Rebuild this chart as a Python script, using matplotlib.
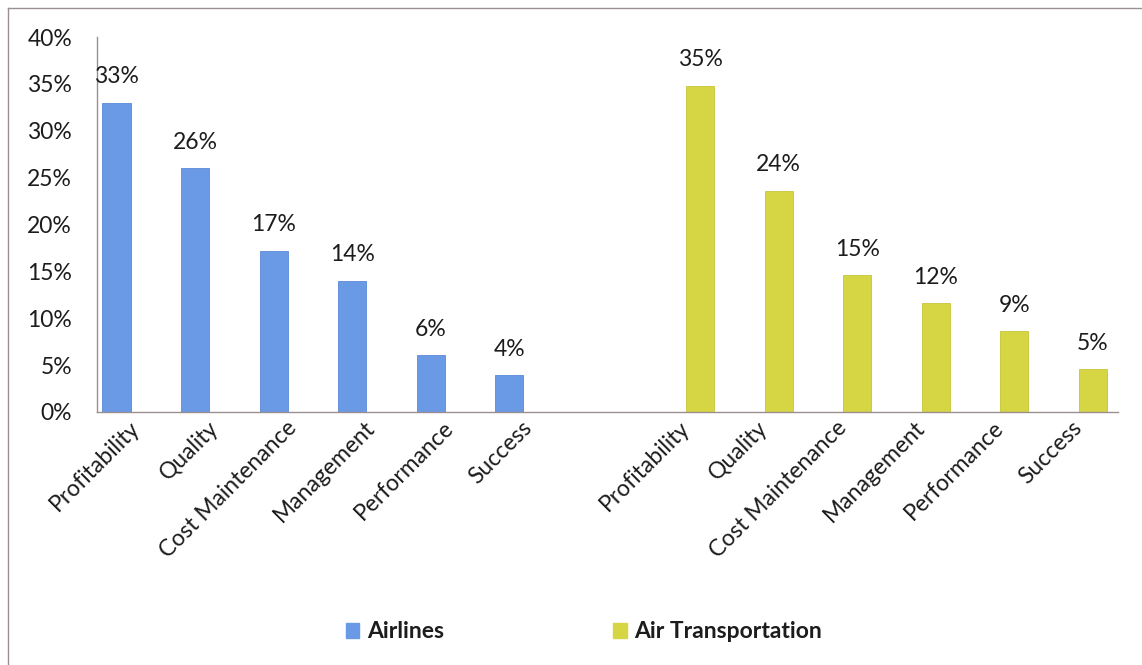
import matplotlib
matplotlib.use("Agg")
import matplotlib.pyplot as plt
from matplotlib.lines import Line2D
from matplotlib.patches import Patch
import numpy as np

# ---- data ----
categories = ["Profitability", "Quality", "Cost Maintenance", "Management", "Performance", "Success"]
airlines = [33.0, 26.0, 17.2, 14.0, 6.1, 3.9]
air_transportation = [34.8, 23.6, 14.6, 11.6, 8.6, 4.6]
series_names = ["Airlines", "Air Transportation"]
y_ticks = [0, 5, 10, 15, 20, 25, 30, 35, 40]

# ---- style ----
BLUE = "#6a9ae6"
YELLOW = "#d6d644"
TXT = "#1c1c1c"
FONT = ["Lato", "DejaVu Sans"]
FS = 16.5

plt.rcParams["font.family"] = FONT

W, H = 1142, 665
fig = plt.figure(figsize=(W / 100, H / 100), dpi=100)
fig.patch.set_facecolor("white")

left, right, bottom, top = 97, 1118, 412, 37
ax = fig.add_axes([left / W, 1 - bottom / H, (right - left) / W, (bottom - top) / H])

n = len(categories)
idx_a = np.arange(n)
idx_b = np.arange(n) + n + 1
bar_w = 0.36

xa = idx_a - 0.25
xb = idx_b + 0.18
ax.bar(xa, airlines, width=bar_w, color=BLUE, edgecolor="#5b8ad8", linewidth=0.6)
ax.bar(xb, air_transportation, width=bar_w, color=YELLOW, edgecolor="#c6c638", linewidth=0.6)

for x, v in list(zip(xa, airlines)) + list(zip(xb, air_transportation)):
    ax.annotate(f"{v:.0f}%", (x, v), xytext=(0, 11), textcoords="offset points",
                ha="center", va="bottom", fontsize=FS, color=TXT)

ax.set_xlim(-0.5, 2 * n + 0.5)
ax.set_ylim(0, 40)
ax.set_yticks(y_ticks)
ax.set_yticklabels([f"{t}%" for t in y_ticks], fontsize=FS, color=TXT)
ax.set_xticks(list(idx_a) + list(idx_b))
ax.set_xticklabels(categories + categories, fontsize=FS, color=TXT,
                   rotation=45, ha="right", va="center", rotation_mode="anchor")
ax.tick_params(axis="both", length=0)
ax.tick_params(axis="y", pad=18)
ax.tick_params(axis="x", pad=9)

for s in ["top", "right"]:
    ax.spines[s].set_visible(False)
for s in ["left", "bottom"]:
    ax.spines[s].set_color("#9a8f8f")
    ax.spines[s].set_linewidth(1.0)

handles = [Patch(facecolor=BLUE, edgecolor=BLUE), Patch(facecolor=YELLOW, edgecolor=YELLOW)]
leg = fig.legend(handles, series_names, loc="center", ncol=2,
                 bbox_to_anchor=(584 / W, 1 - 632 / H), frameon=False,
                 handlelength=0.6, handleheight=0.6, handletextpad=0.35,
                 columnspacing=7.35, prop={"family": FONT, "size": FS, "weight": "bold"})
for t in leg.get_texts():
    t.set_color(TXT)

# outer frame (top and left edges)
fig.add_artist(Line2D([8 / W, 1.0], [1 - 8 / H, 1 - 8 / H], color="#9a8f8f", lw=1.0, transform=fig.transFigure))
fig.add_artist(Line2D([8 / W, 8 / W], [1 - 8 / H, 0.0], color="#9a8f8f", lw=1.0, transform=fig.transFigure))

fig.savefig("out.png", dpi=100, facecolor="white")
